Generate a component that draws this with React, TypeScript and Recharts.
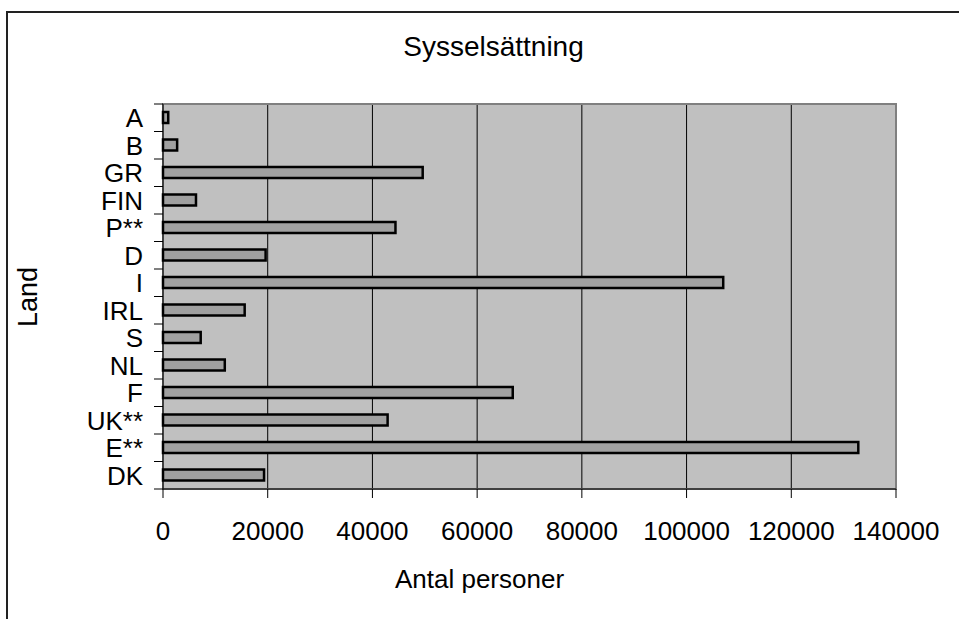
import React from "react";
import { BarChart, Bar, XAxis, YAxis, CartesianGrid, ReferenceArea } from "recharts";

const countries = ["A", "B", "GR", "FIN", "P**", "D", "I", "IRL", "S", "NL", "F", "UK**", "E**", "DK"];
const employed = [1000, 2700, 49600, 6300, 44400, 19600, 107000, 15600, 7200, 11800, 66800, 42900, 132800, 19300];
const xTicks = [0, 20000, 40000, 60000, 80000, 100000, 120000, 140000];

const data = countries.map((c, i) => ({ land: c, value: employed[i] }));

const FONT = "'Liberation Sans', Arial, sans-serif";
const TICK_LEN = 9;

function CatTick(props: any) {
  const { x, y, payload, index, visibleTicksCount } = props;
  const half = payload && payload.offset ? payload.offset : 0;
  const axisX = x;
  const isLast = index === visibleTicksCount - 1;
  return (
    <g>
      <line x1={axisX - TICK_LEN} x2={axisX} y1={y - half} y2={y - half} stroke="#000" strokeWidth={1} />
      {isLast ? <line x1={axisX - TICK_LEN} x2={axisX} y1={y + half} y2={y + half} stroke="#000" strokeWidth={1} /> : null}
      <text x={axisX - TICK_LEN - 11} y={y} dy="0.36em" textAnchor="end" fill="#000" fontSize={26} fontFamily={FONT}>
        {payload.value}
      </text>
    </g>
  );
}

export default function App() {
  return (
    <div style={{ position: "fixed", left: 0, top: 0, width: 959, height: 619, overflow: "hidden", background: "#fff", fontFamily: FONT }}>
      <div style={{ position: "absolute", left: 6, top: 11, width: 1100, height: 800, borderLeft: "2px solid #222", borderTop: "2px solid #222" }} />
      <div style={{ position: "absolute", left: 14, width: 959, top: 33, textAlign: "center", fontSize: 28, lineHeight: "28px", color: "#000" }}>Sysselsättning</div>
      <div style={{ position: "absolute", left: 0, width: 959, top: 566, textAlign: "center", fontSize: 26, lineHeight: "26px", color: "#000" }}>Antal personer</div>
      <div style={{ position: "absolute", left: 28, top: 297, transform: "translate(-50%,-50%) rotate(-90deg)", fontSize: 27, lineHeight: "27px", whiteSpace: "nowrap", color: "#000" }}>Land</div>
      <div style={{ position: "absolute", left: 0, top: 0 }}>
        <BarChart
          width={959}
          height={619}
          data={data}
          layout="vertical"
          margin={{ top: 104, right: 63, bottom: 70, left: 63 }}
          barCategoryGap={0}
        >
          <CartesianGrid horizontal={false} vertical={true} stroke="#000" strokeWidth={1} fill="#c0c0c0" fillOpacity={1} />
          <XAxis
            type="number"
            dataKey="value"
            domain={[0, 140000]}
            ticks={xTicks}
            interval={0}
            height={60}
            tickSize={9}
            tickMargin={24}
            axisLine={{ stroke: "#000", strokeWidth: 1 }}
            tickLine={{ stroke: "#000", strokeWidth: 1 }}
            tick={{ fill: "#000", fontSize: 26, fontFamily: FONT }}
          />
          <YAxis
            type="category"
            dataKey="land"
            width={100}
            interval={0}
            tickSize={0}
            tickMargin={0}
            axisLine={{ stroke: "#000", strokeWidth: 1 }}
            tickLine={false}
            tick={<CatTick />}
          />
          <ReferenceArea
            x1={0}
            x2={140000}
            y1={countries[0]}
            y2={countries[countries.length - 1]}
            fill="none"
            stroke="#808080"
            strokeWidth={2}
            ifOverflow="visible"
          />
          <Bar
            dataKey="value"
            fill="#a0a0a0"
            stroke="#000"
            strokeWidth={2.5}
            barSize={11}
            isAnimationActive={false}
          />
        </BarChart>
      </div>
    </div>
  );
}
